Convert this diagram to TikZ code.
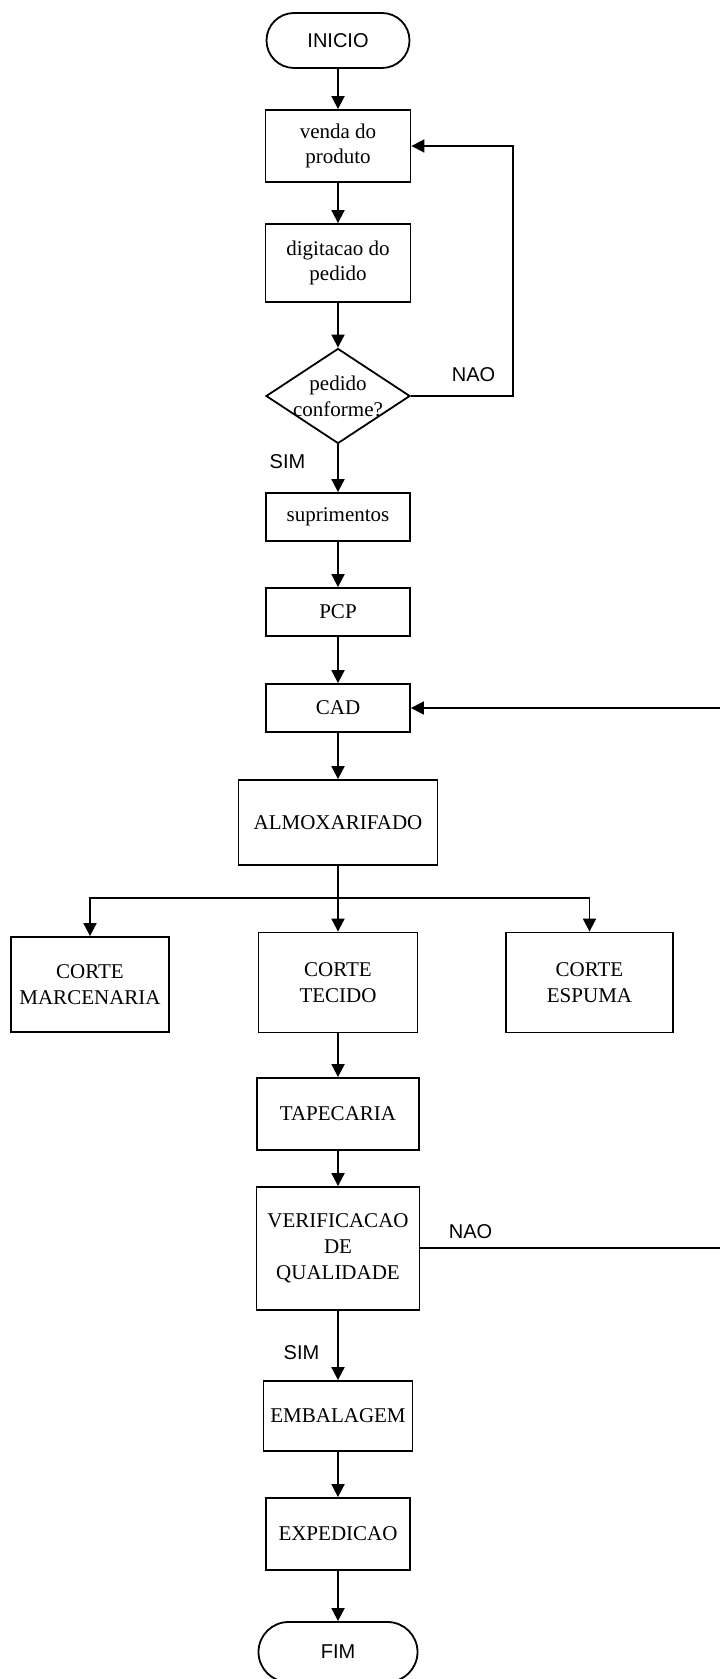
\documentclass[tikz,border=0pt]{standalone}
\usepackage{fontspec}
\setmainfont{Liberation Serif}
\setsansfont{Liberation Sans}
\usepackage{tikz}
\usetikzlibrary{arrows.meta,calc,positioning,shapes.geometric,shapes.misc}
\definecolor{ink}{HTML}{000000}

\begin{document}
\begin{tikzpicture}[x=0.5pt,y=-0.5pt,>={Triangle[length=6.5pt,width=6.5pt]},
  line width=0.9pt,
  box/.style={draw=ink,rectangle,align=center,inner sep=0pt,font=\fontsize{10.5}{12.9}\selectfont},
  term/.style={draw=ink,rounded rectangle,inner sep=0pt,font=\sffamily\fontsize{10}{12}\selectfont},
  decision/.style={draw=ink,diamond,inner sep=0pt,minimum width=72pt,minimum height=47.5pt},
  tag/.style={font=\sffamily\fontsize{10}{12}\selectfont,inner sep=0pt},
  flow/.style={->,draw=ink,line width=0.9pt}]
\useasboundingbox (0,0) rectangle (719,1679);
\node[term,minimum width=71.5pt,minimum height=27.5pt] (inicio) at (338,40.5) {INICIO};
\foreach \nm/\yy/\ww/\hh/\txt in {
  venda/146/72.5/36/{venda do\\produto},
  digit/263/72.5/39/{digitacao do\\pedido},
  supr/517/72/24/{suprimentos},
  pcp/612/72/24/{PCP},
  cad/708/72/24/{CAD},
  almox/822.5/99.5/42.5/{ALMOXARIFADO},
  tecido/982.5/79.5/50/{CORTE\\TECIDO},
  tapec/1114/81/36/{TAPECARIA},
  verif/1248.5/81.5/61.5/{VERIFICACAO\\DE\\QUALIDADE},
  embal/1416/74.5/35/{EMBALAGEM},
  exped/1534/72/36/{EXPEDICAO}}{
  \node[box,minimum width=\ww pt,minimum height=\hh pt] (\nm) at (338,\yy) {\txt};
}
\node[decision,label={[align=center,font=\fontsize{10.5}{12.9}\selectfont]center:pedido\\conforme?}] (pedido) at (338,396) {};
\node[box,minimum width=79.3pt,minimum height=47.5pt] (marc) at (90,984.5) {CORTE\\MARCENARIA};
\node[box,minimum width=83.5pt,minimum height=50pt] (espuma) at (589.5,982.5) {CORTE\\ESPUMA};
\node[term,minimum width=79.5pt,minimum height=30pt] (fim) at (338,1652) {FIM};
\node[tag] (nao1) at (473.5,375) {NAO};
\node[tag] (sim1) at (287.5,462) {SIM};
\node[tag] (nao2) at (470.5,1232) {NAO};
\node[tag] (sim2) at (301.5,1353) {SIM};
\foreach \a/\b in {inicio/venda,venda/digit,digit/pedido,pedido/supr,supr/pcp,pcp/cad,
  cad/almox,tecido/tapec,tapec/verif,verif/embal,embal/exped,exped/fim}{
  \draw[flow] (\a) -- (\b);
}
\coordinate (split) at (338,898);
\draw (almox) -- (split);
\draw[flow] (split) -| (marc);
\draw[flow] (split) -- (tecido);
\draw[flow] (split) -| (espuma);
\coordinate (ret1) at (513,396);
\draw[flow] (pedido.east) -- (ret1) |- (venda.east);
\coordinate (ret2) at (735,1248);
\draw[flow] (verif.east |- ret2) -- (ret2) |- (cad.east);
\end{tikzpicture}
\end{document}
